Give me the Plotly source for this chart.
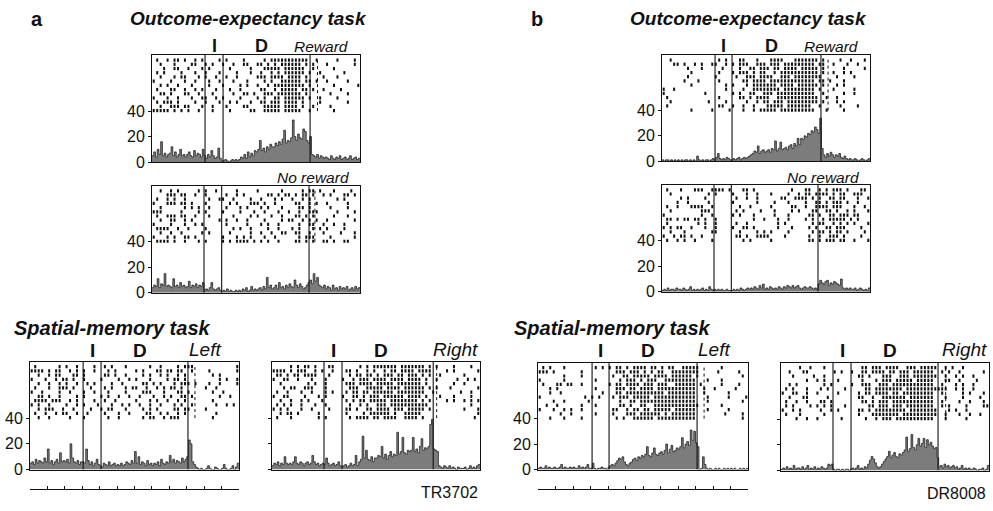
import plotly.graph_objects as go

W, H = 993, 511
FONT = "Liberation Sans, Arial, Helvetica, sans-serif"

# ---------------- data ----------------
panel_ids = ["aR", "aN", "aL", "aRt", "bR", "bN", "bL", "bRt"]
y_tick_vals = [0, 20, 40]
y_tick_text = ["0", "20", "40"]

# event times on the 0..12 time axis: I cue, D delay, outcome, outcome markers
event_I = [3.06, 3.00, 3.05, 3.00, 3.06, 3.00, 3.09, 3.00]
event_D = [4.10, 4.02, 4.08, 4.04, 4.04, 4.00, 4.06, 4.04]
event_R = [9.12, 9.06, 9.07, 9.30, 9.17, 9.00, 9.09, 9.06]
marker_R = [9.55, 9.40, 9.47, 9.50, 9.58, None, 9.49, 9.50]

# histogram (spikes/s), bins of 0.1 on the 0..12 axis
hist_aR = [5,8,4,10,6,16,5,7,4,6, 7,12,5,8,4,6,10,5,6,4, 6,8,5,4,9,5,7,6,4,10,
           5,3,6,4,9,5,3,4,11,3, 1,1,2,1,0,1,2,1,2,1, 2,4,3,6,3,8,4,7,5,9,
           8,10,17,9,11,8,12,10,14,12, 12,15,13,16,14,18,25,15,17,16,
           19,33,20,17,22,19,18,26,24,17, 15,20,6,5,4,6,3,5,4,3,
           4,3,2,5,3,2,4,3,5,2, 3,4,2,3,5,2,3,4,2,3]
hist_aN = [4,6,5,11,4,7,6,15,5,6, 5,4,11,5,6,4,8,5,6,4, 5,9,4,6,5,7,4,6,5,8,
           2,3,2,4,8,3,2,3,4,2, 1,2,1,3,1,2,1,1,2,1, 2,1,3,2,4,1,2,5,2,3,
           2,3,4,2,5,3,12,4,6,3, 4,6,3,8,4,5,3,6,4,7, 5,4,10,6,4,7,5,3,4,6,
           8,10,7,15,9,12,6,5,4,6, 3,5,4,2,6,3,4,2,5,3, 4,3,5,2,3,4,2,5,3,4]
hist_aL = [5,6,4,8,5,7,6,5,9,6, 16,5,7,4,6,8,5,13,6,7, 6,8,5,20,9,6,5,7,4,6,
           6,5,16,7,4,6,3,5,8,4, 3,2,5,4,3,6,3,4,5,3, 4,3,5,3,4,6,5,4,7,5,
           14,5,10,4,6,5,3,7,4,5, 3,5,4,6,3,8,5,4,6,5, 11,6,8,5,7,6,5,9,6,8,
           10,23,20,6,4,2,1,0,1,0, 0,1,3,1,0,0,2,1,0,0, 1,4,1,0,0,1,3,0,2,5]
hist_aRt = [3,5,4,6,3,5,4,10,5,4, 5,4,6,10,5,4,6,5,3,5, 6,4,5,11,6,4,5,3,4,5,
            4,9,5,3,4,5,3,4,6,3, 2,3,4,2,3,5,3,4,11,3, 6,8,26,9,15,8,7,10,6,9,
            9,11,10,18,9,12,8,11,14,10, 12,11,29,12,14,25,13,12,15,14,
            15,25,14,16,13,18,24,15,17,16, 18,35,39,16,15,14,3,2,1,3,
            2,1,3,1,2,1,0,2,1,1, 1,2,0,1,3,1,2,1,3,4]
hist_bR = [1,0,1,1,0,1,0,1,0,1, 0,1,0,1,1,0,1,0,1,0, 4,1,0,1,0,1,1,0,1,2,
           1,3,6,2,1,2,1,3,2,1, 1,2,1,2,3,1,2,3,2,3, 4,5,6,8,7,12,6,8,9,7,
           8,9,7,10,9,16,8,10,15,9, 10,11,9,12,13,10,14,12,18,13,
           18,17,20,19,22,21,24,23,27,25, 22,34,10,5,3,6,4,7,5,3,
           5,4,6,3,2,4,2,1,2,1, 1,2,1,0,1,2,1,0,1,2]
hist_bN = [1,2,1,3,1,2,2,1,3,2, 2,1,3,2,1,2,4,1,2,1, 2,1,2,3,1,2,1,4,2,1,
           2,1,2,1,2,1,1,2,1,1, 1,2,1,2,1,3,2,1,2,3, 2,3,2,4,3,2,5,3,6,2,
           3,2,4,3,2,3,2,4,3,2, 4,3,5,4,3,5,3,4,5,3, 2,3,4,3,3,4,3,2,3,2,
           6,9,7,6,8,9,5,7,6,8, 7,6,5,10,3,2,3,2,3,2, 2,3,1,2,3,2,1,2,1,3]
hist_bL = [1,2,1,1,3,1,2,1,1,2, 1,1,2,4,1,2,1,1,2,1, 2,1,1,3,1,2,1,2,4,1,
           1,5,1,0,1,1,2,1,1,0, 2,3,4,3,5,7,9,8,10,6, 4,3,5,6,8,9,7,10,9,11,
           10,12,18,11,10,13,17,12,11,13, 14,12,15,20,13,16,19,14,15,17,
           16,18,25,17,20,22,19,31,23,30, 21,18,0,1,10,4,1,0,1,0,
           0,1,0,1,0,0,1,0,1,0, 1,0,1,0,0,1,0,1,0,1]
hist_bRt = [1,2,1,3,1,2,1,4,1,2, 2,1,3,1,2,4,1,2,1,3, 1,2,1,3,2,1,2,5,4,5,
            1,0,1,1,0,1,0,1,1,0, 1,2,1,2,4,1,2,1,3,2, 5,8,11,9,6,3,2,3,5,7,
            9,11,15,10,12,14,11,10,13,12, 14,16,26,15,17,28,18,16,20,25,
            19,21,25,18,24,20,22,19,17,18, 10,3,4,2,5,3,4,2,3,4,
            2,3,1,2,4,1,2,1,2,1, 1,2,1,0,1,1,2,0,1,4]

# rasters: one string per trial, 60 cells of 0.2 on the 0..12 axis ('|' = spike)
raster_aR = [
    ".|..|.||.| ..|.|....| .|....|... ..|.|||||| |||||..|.. ...|....|.",
    "..|...|... .||..|.|.. |..|..||.. ||.|.|.||| |||.|.|... |.......|.",
    "...|..||.. |...|.|... ..|.....|. ..|||||.|| ||||..|... ..|.......",
    ".|.|....|. ..|..|...| ....|...|. .|..|.|.|| ||||.|..|. .....|....",
    "..|...|.|| ...|.|..|. .|..|..... |||.||||.| |||.|....| ...|......",
    "|....|...| ..|...|..| ...|...|.. ..|.|..||| |||.||.|.. |.....|...",
    "..|.|..|.. .|....|... |....|.|.. |..|.||||| ||||.|.... ..|......|",
    ".|...||..| ..|.|...|. ..|..|.... .||..|.||| ||.||.|..| ....|.....",
    "..||.|...| |..|...|.. ...|..||.| ..|||.|||| |||.|..... .|....|...",
    "|...|..|.. .|..||..|. |....|.... |.|..||.|| ||||.|..|. ...|......",
    ".|.|||.|.. ..|..|...| ..|.|...|. .||.|||.|| ||.|....|. ......|...",
    "..|..|||.| |...|..|.. .|....||.. ..|||||.|| ||.|..|... .|........",
    "|||||.|.|. |..|...|.. ..|.....|| ..|||||.|| |||..|.... ..|.......",
]
raster_aN = [
    "..|..|.|.. ...|.|..|. ....|..... |......|.. ...|.||.|. ..|....|..",
    "....|||.|| ..|..|.... .|..|.|... ...||.|.|| .|.||.|..| .|...||.|.",
    ".|..|.|..| ......|..| |..|....|. .|...|.|.. |..|.|.... ...|.|....",
    "|...|||.|| .|...|.... ..|.|...|| |.|..|.... .||..|.|.. |.....|...",
    "..|......| .|.|..|... .|...|.|.. .|.|...|.. ..||.|.... .|....|...",
    "|||.....|. ...|.|.... |....|...| ..|...|..| ..|..|||.. ...|....|.",
    ".|..|||.|| ..|...|... ...|....|. |...|..|.. .||.|.|... ..|...|...",
    "..|..||..| .|.......| .|..|..|.. ..|....|.| |..|.|.|.. |.......|.",
    "|....|...| ..|.|..... .|.....|.. .|.|..|... ..|..||..| ..|..|....",
    ".||||..|.. |....|.... ...|.|..|. ...|..|... |.|...|.|. |....|....",
    "..|..|..|. ....|.|... ..|.....|. .|..|..||. .||..|...| ....|...|.",
    "|...|.|..| |.|....... |...|.|.|. ..|..|.... ..|.|||... .|......|.",
    ".||||.|..| ...|.|.... |.|.||||.| .|.|..|... .||.|.|..| |.|..||...",
]
raster_aL = [
    ".|......|. |..|....|. .|.|...|.. ....|..|.. ..|.|||... .........|",
    "||||.|.||. .|.|.|..|. ..|.|..... |.|...||.| |.||..|... .|.......|",
    "..|..|.||. ..||.|.... .||.|..|.. ..|.|..|.| ..|.|..... ..|.|.....",
    "|...|..|.| |.|..|.... |....|..|. |...|....| .||.|..... ....|.|..|",
    "..|..|..|. |..|..|.|. ...|..|... ..||.|.|.. .|.|||.|.. .|..|....|",
    ".|...|..|| |.|....|.. .|.|...|.| |..|..|.|. ||.|...... |..|......",
    "|..|....|. .|...|..|. ..|....|.. ..|||...|. ..||.|.... ..|..|....",
    "..||.|..|. ...|.|.... |.|..|..|. .|...|..|. |..||.|... ....|..|..",
    ".||||.|||. .|.|....|. .|..|..... |...|.|..| ..|.|..... ..|.......",
    "|.|..|.... |..|.|...| ...|..|.|. .|..|..|.. .|.|..|... ...|..|.|.",
    "..|.|||..| ..|....|.. |.||...|.. ..|.|.|... .||.||.... |.........",
    ".|..|..|.| |..|..|... .|...|..|. ...||..|.| ..|.|..... ...|......",
    "..|..|.... .|...|.... ..|..|.... ..|.||..|. |||....... ..|.......",
]
raster_aRt = [
    ".....|.|.| |.|...||.. .....|.|.| ||||||.||| ||||.|.|.. ..|....|..",
    "||||.|.||| ..|.|..|.. .||.|..|.| ..|.||.||| |.||||.... |.|......|",
    ".||.|.||.| |||...|... ..|.||.||. |.|||.||.| ||.|.|..|. .....|....",
    "|..||..|.. .|...|.... |..|.|||.| |||.||||.| |||.|..|.. ...|..|.|.",
    "..|....... |.|..|.... .|||.||||. |||||.|||| |||.|..... ..|..|....",
    "...|.||..| ||...|.... ..|||..||| ||.||||.|| ||||.|.|.. .|.......|",
    ".|..|...|. .|...|.|.. .|.||.||.| |||||.|||| ||||..|... ....|..|..",
    "|..||....| ...|.|.... |..||.|.|| |.||||||.| |||.|...|. ..|....|..",
    "..|..|..|. |...|..... .|.|.||.|| |||.|||||| ||.|.|.... |.|..|.|.|",
    ".|.|.|..|. ..|..|.... ..|..|.|.. |||.|||||| |||||..... .......|..",
    "|.|.|...|. .|....|... .||.|..||. ||||.|||.| ||||.|.... .....|...|",
    "..|.||.|.. ...|...... .|....|.|| ||||.|..|| |||....... .........|",
    ".|...|.... ...|.|.... ..|.||||.| |.||||..|| ||.|...... ........|.",
]
raster_bR = [
    "..|....... ......|.|. ..||...|.. .||||...|| |||||.|... .|..|...|.",
    "...||.|..| .|..||..|. |.|||..||| .|||.||||| ||||.||..| ...|..|...",
    ".......|.. .|.....|.. ..|..||.|| |.||.||||. |||||.|... ..|.....|.",
    "........|. ......|... |.|||.|.|| ..|.|||||| |||||.|..| ..|.|.....",
    ".......|.. .....|.... .|..|||.|| ||..|||.|| ||||||.... |....|....",
    "......|... |.....|... ...||.|||| .||||||||| ||||.||.|. ..|.......",
    "........|. ........|. |...|.|||| |||.||||.| |||||.|... |.|.......",
    "|..|...... ........|. ...|..|||| ||||.||||| ||||.|...| .....|....",
    "|......... ..|....... |.|..||..| ||.||||||| ||||..|... ..|..|....",
    ".|........ ......|... ..||.|.||| |..||||||| |||||..|.. |.........",
    "..|....... ...|....|. ....|..|.| |.|||.|||| |||||.|... |.|.......",
    ".|........ ......||.. |..|..|... |||||.|||| |||..|.... .|....|...",
    "........|. ....|....| ...|..|.|| |||.|||||| ||||...|.. ..|.......",
]
raster_bN = [
    ".|...|...| ||..||||.| ...||.|... .......|.. .||..|.|.| ||.|...||.",
    "..|....... ...|.|.... |...|..|.. .|....|..| .||.||||.| .||..|||..",
    ".....|.|.. ..|....... .|..|..|.. ....||..|| ||.|.|..|| .||...|..|",
    "....|..|.. ...|...... |......|.. ..|...|... .|..||.|.| ||.|..|...",
    ".|..|...|| ||..|..... ..|..|.... .|.....||. .|..||||.| ||...|..|.",
    "..|....... .|||...... .|.|....|. ..|....|.| ...||..||. |..|.|...|",
    "|......... .|..|..... |.|...|... ..|...|... ..||.|..|| .|||.||...",
    ".||.|.||.| |.|..|.... ......|..| ...|..|... .|.|..|.|| |||.|.|...",
    ".|........ |.|..|.... .|..|..... ...|.|.... ...|.||..| .|.|.|...|",
    "|.|.||..|. ..|..|.... |..||.|... ...|...|.. ..|.|..||. |||....|..",
    "..|...|... ....||.... ..|....|.| .|....|... ...|.||.|. ||.|....|.",
    "|..|.||.|. .|........ .||.|..||| |....|.... ..|..|..|| |.|....|..",
    ".|..|.|..| ....|..... ...|.|.... .|........ ..||.|.||| .||..|...|",
]
raster_bL = [
    ".|.|...|.. ......|.|. |.||.|.||| |.||.|.||. .|||||.... ..|.......",
    "|||.|..... ..|....... ..|||.|||. |.|.||..|| ||||||.... .|.....|..",
    ".......|.. ..|....... .|..||.||| ||.||||.|| ||||.|.... ........|.",
    "|......|.. ......|... ...|.|||.| .|||..|||| |||||...|. ..|.......",
    ".|...||.|| ..|....... |.||.||||. |||.|||..| |||||.|... ..|....|..",
    "...|.|.... ......|... ..|||.||.| |||.|||||| |||||..|.. |.....|...",
    "...|..|... ........|. ..||.||||| ||||||.||| |||||..|.. ....|.....",
    "|......... ...|.|.|.. .|.|||.||| ||.||||||| |||||...|. ....|....|",
    "....|..|.. ....|..... ...|..||.| |||||||||| |||||...|. ........|.",
    "..|..|.... ..|...|... ...||.|..| |..||||||| ||||||.... ..|.......",
    "|...|..|.| ..|....... .||..|.||. ||.|||||.| |||||...|. ....|.....",
    "......|..| ......|... .|...|||.| |||||.|.|| |||||..... ...|....|.",
    "...|...|.. ..|....... ..|.|..||| |||.|||||| |||||..... ........|.",
]
raster_bRt = [
    ".....|..|. ..|....... ...||.|||. ||||..|||. |||||..|.| ..|.......",
    "..|...||.. .....|.|.. |..||.|||| .||.|||.|| ||||..|.|. .|......|.",
    "...|.....| ..|....... ..||.|...| ||..|||.|| |||||..|.. |.|..|....",
    ".......|.. |.|...|... ...|...|.| ||.|||||.| ||||...||. .|....|...",
    "..|.|..... ..|.|..... |..|||..|| |.|||||||| ||||..|... |.|..|....",
    ".|.|...|.. .|.|....|. ....||.||| |||||.|||| ||||||||.. |.|..|....",
    "|..||..|.. |.....|... ..|.||.||| |.||.||||| ||||..|... ..|.|...|.",
    "..|...||.. ...|...... ..||..|..| ||||||.||| ||||...|.. ..|....|..",
    ".|..|..|.. .||.|..... ...||.|.|| |.|||||||| ||||..|... .|..|...|.",
    ".|.|....|. |.|.|...|. .....||.|| |.|||.|||| ||||..|.|. ...|....||",
    "|..|.|.... .|..|.|... ..||.|.||| ||||||.||| |||||...|. |..|......",
    ".|...|.... ..|....... ..|...|||| ||||.||||| |||||..|.. .|..|..|..",
    "....|..|.. |......|.. ....|..|.| ||.||||||| ||||...|.. ...|......",
]

hists = dict(aR=hist_aR, aN=hist_aN, aL=hist_aL, aRt=hist_aRt,
             bR=hist_bR, bN=hist_bN, bL=hist_bL, bRt=hist_bRt)
rasters = dict(aR=raster_aR, aN=raster_aN, aL=raster_aL, aRt=raster_aRt,
               bR=raster_bR, bN=raster_bN, bL=raster_bL, bRt=raster_bRt)

# ---------------- layout geometry (pixels: left, right, top, bottom) ----------------
boxes = {
    "aR": (152, 360, 56, 165), "aN": (152, 360, 189, 298),
    "aL": (30, 239, 368, 478), "aRt": (272, 480, 368, 478),
    "bR": (662, 870, 56, 164), "bN": (662, 870, 188, 297),
    "bL": (538, 748, 369, 478), "bRt": (781, 989, 369, 479),
}
labelled = {"aR", "aN", "aL", "bR", "bN", "bL"}
XMAX, YMAX = 12, 84
BIN = 0.1
CELL = 0.2


def px(x):
    return x / W


def py(y):
    return 1 - y / H


fig = go.Figure()
layout = {}
ink = "#111111"
grey = "#7c7c7c"

for k, pid in enumerate(panel_ids, start=1):
    xs = "x" if k == 1 else f"x{k}"
    ys = "y" if k == 1 else f"y{k}"
    l, r, t, b = boxes[pid]
    vals = hists[pid]
    edges = [i * BIN for i in range(len(vals) + 1)]
    fig.add_trace(go.Scatter(x=edges, y=vals + [vals[-1]], mode="lines",
                             line=dict(color=ink, width=0.7, shape="hv"),
                             fill="tozeroy", fillcolor=grey,
                             xaxis=xs, yaxis=ys, hoverinfo="skip", showlegend=False))
    rx, ry = [], []
    for ri, row in enumerate(rasters[pid]):
        cells = row.replace(" ", "").ljust(60, ".")[:60]
        for ci, c in enumerate(cells):
            if c == "|":
                rx.append((ci + 0.5) * CELL)
                ry.append(80 - ri * 3.3)
    fig.add_trace(go.Scatter(x=rx, y=ry, mode="markers",
                             marker=dict(symbol="line-ns", size=2.3, color=ink,
                                         line=dict(color=ink, width=2.0)),
                             xaxis=xs, yaxis=ys, hoverinfo="skip", showlegend=False))
    for tev in (event_I[k - 1], event_D[k - 1], event_R[k - 1]):
        fig.add_trace(go.Scatter(x=[tev, tev], y=[0, YMAX], mode="lines",
                                 line=dict(color=ink, width=1.1),
                                 xaxis=xs, yaxis=ys, hoverinfo="skip", showlegend=False))
    if marker_R[k - 1] is not None:
        fig.add_trace(go.Scatter(x=[marker_R[k - 1]] * 2, y=[40, 82], mode="lines",
                                 line=dict(color=ink, width=1, dash="dot"),
                                 xaxis=xs, yaxis=ys, hoverinfo="skip", showlegend=False))
    xname = "xaxis" if k == 1 else f"xaxis{k}"
    yname = "yaxis" if k == 1 else f"yaxis{k}"
    layout[xname] = dict(domain=[px(l), px(r)], range=[0, XMAX], anchor=ys,
                         showline=True, mirror=True, linecolor=ink, linewidth=1,
                         showgrid=False, zeroline=False, ticks="", showticklabels=False)
    layout[yname] = dict(domain=[py(b), py(t)], range=[0, YMAX], anchor=xs,
                         showline=True, mirror=True, linecolor=ink, linewidth=1,
                         showgrid=False, zeroline=False, ticks="outside", ticklen=3,
                         tickcolor=ink, tickvals=y_tick_vals,
                         ticktext=y_tick_text if pid in labelled else ["", "", ""],
                         tickfont=dict(family=FONT, size=16, color=ink))

# time scale bars under the spatial-memory panels
for k, pid in ((9, "aL"), (10, "bL")):
    l, r, t, b = boxes[pid]
    fig.add_trace(go.Scatter(x=[0, XMAX], y=[0, 0], mode="none",
                             xaxis=f"x{k}", yaxis=f"y{k}", hoverinfo="skip", showlegend=False))
    layout[f"xaxis{k}"] = dict(domain=[px(l), px(r)], range=[0, XMAX], anchor=f"y{k}",
                               showline=True, linecolor=ink, linewidth=1,
                               ticks="inside", ticklen=3, tickcolor=ink, dtick=1, tick0=0,
                               showticklabels=False, showgrid=False, zeroline=False)
    layout[f"yaxis{k}"] = dict(domain=[py(498), py(488)], range=[0, 1], anchor=f"x{k}",
                               visible=False)

ann = []


def text(s, x, y, size, xanchor="center", bold=False, italic=False):
    if bold:
        s = f"<b>{s}</b>"
    if italic:
        s = f"<i>{s}</i>"
    ann.append(dict(text=s, x=px(x), y=py(y), xref="paper", yref="paper",
                    xanchor=xanchor, yanchor="middle", showarrow=False,
                    font=dict(family=FONT, size=size, color=ink)))


text("a", 37, 19, 20, bold=True)
text("b", 537, 19, 20, bold=True)
text("Outcome-expectancy task", 128, 19, 19, "left", bold=True, italic=True)
text("Outcome-expectancy task", 628, 19, 19, "left", bold=True, italic=True)
text("Spatial-memory task", 12, 334, 20, "left", bold=True, italic=True)
text("Spatial-memory task", 512, 334, 20, "left", bold=True, italic=True)

for pid, iy in (("aR", 47), ("bR", 47)):
    l, r, t, b = boxes[pid]
    k = panel_ids.index(pid)
    sc = (r - l) / XMAX
    text("I", l + sc * (event_I[k] + event_D[k]) / 2, iy, 18, bold=True)
    text("D", l + sc * 6.3, iy, 18, bold=True)
    text("Reward", r - 9, iy, 15.5, "right", italic=True)
for pid in ("aN", "bN"):
    l, r, t, b = boxes[pid]
    text("No reward", r - 8, 181, 15.5, "right", italic=True)
for pid, lab in (("aL", "Left"), ("aRt", "Right"), ("bL", "Left"), ("bRt", "Right")):
    l, r, t, b = boxes[pid]
    k = panel_ids.index(pid)
    sc = (r - l) / XMAX
    text("I", l + sc * (event_I[k] + event_D[k]) / 2, 357, 19, bold=True)
    text("D", l + sc * 6.3, 357, 19, bold=True)
    text(lab, r - (16 if lab == "Left" else 0), 356, 19, "right", italic=True)

text("TR3702", 480, 501, 16, "right")
text("DR8008", 988, 502, 16, "right")

fig.update_layout(width=W, height=H, margin=dict(l=0, r=0, t=0, b=0),
                  paper_bgcolor="white", plot_bgcolor="white",
                  annotations=ann, showlegend=False, **layout)

fig.write_html("out.html")
